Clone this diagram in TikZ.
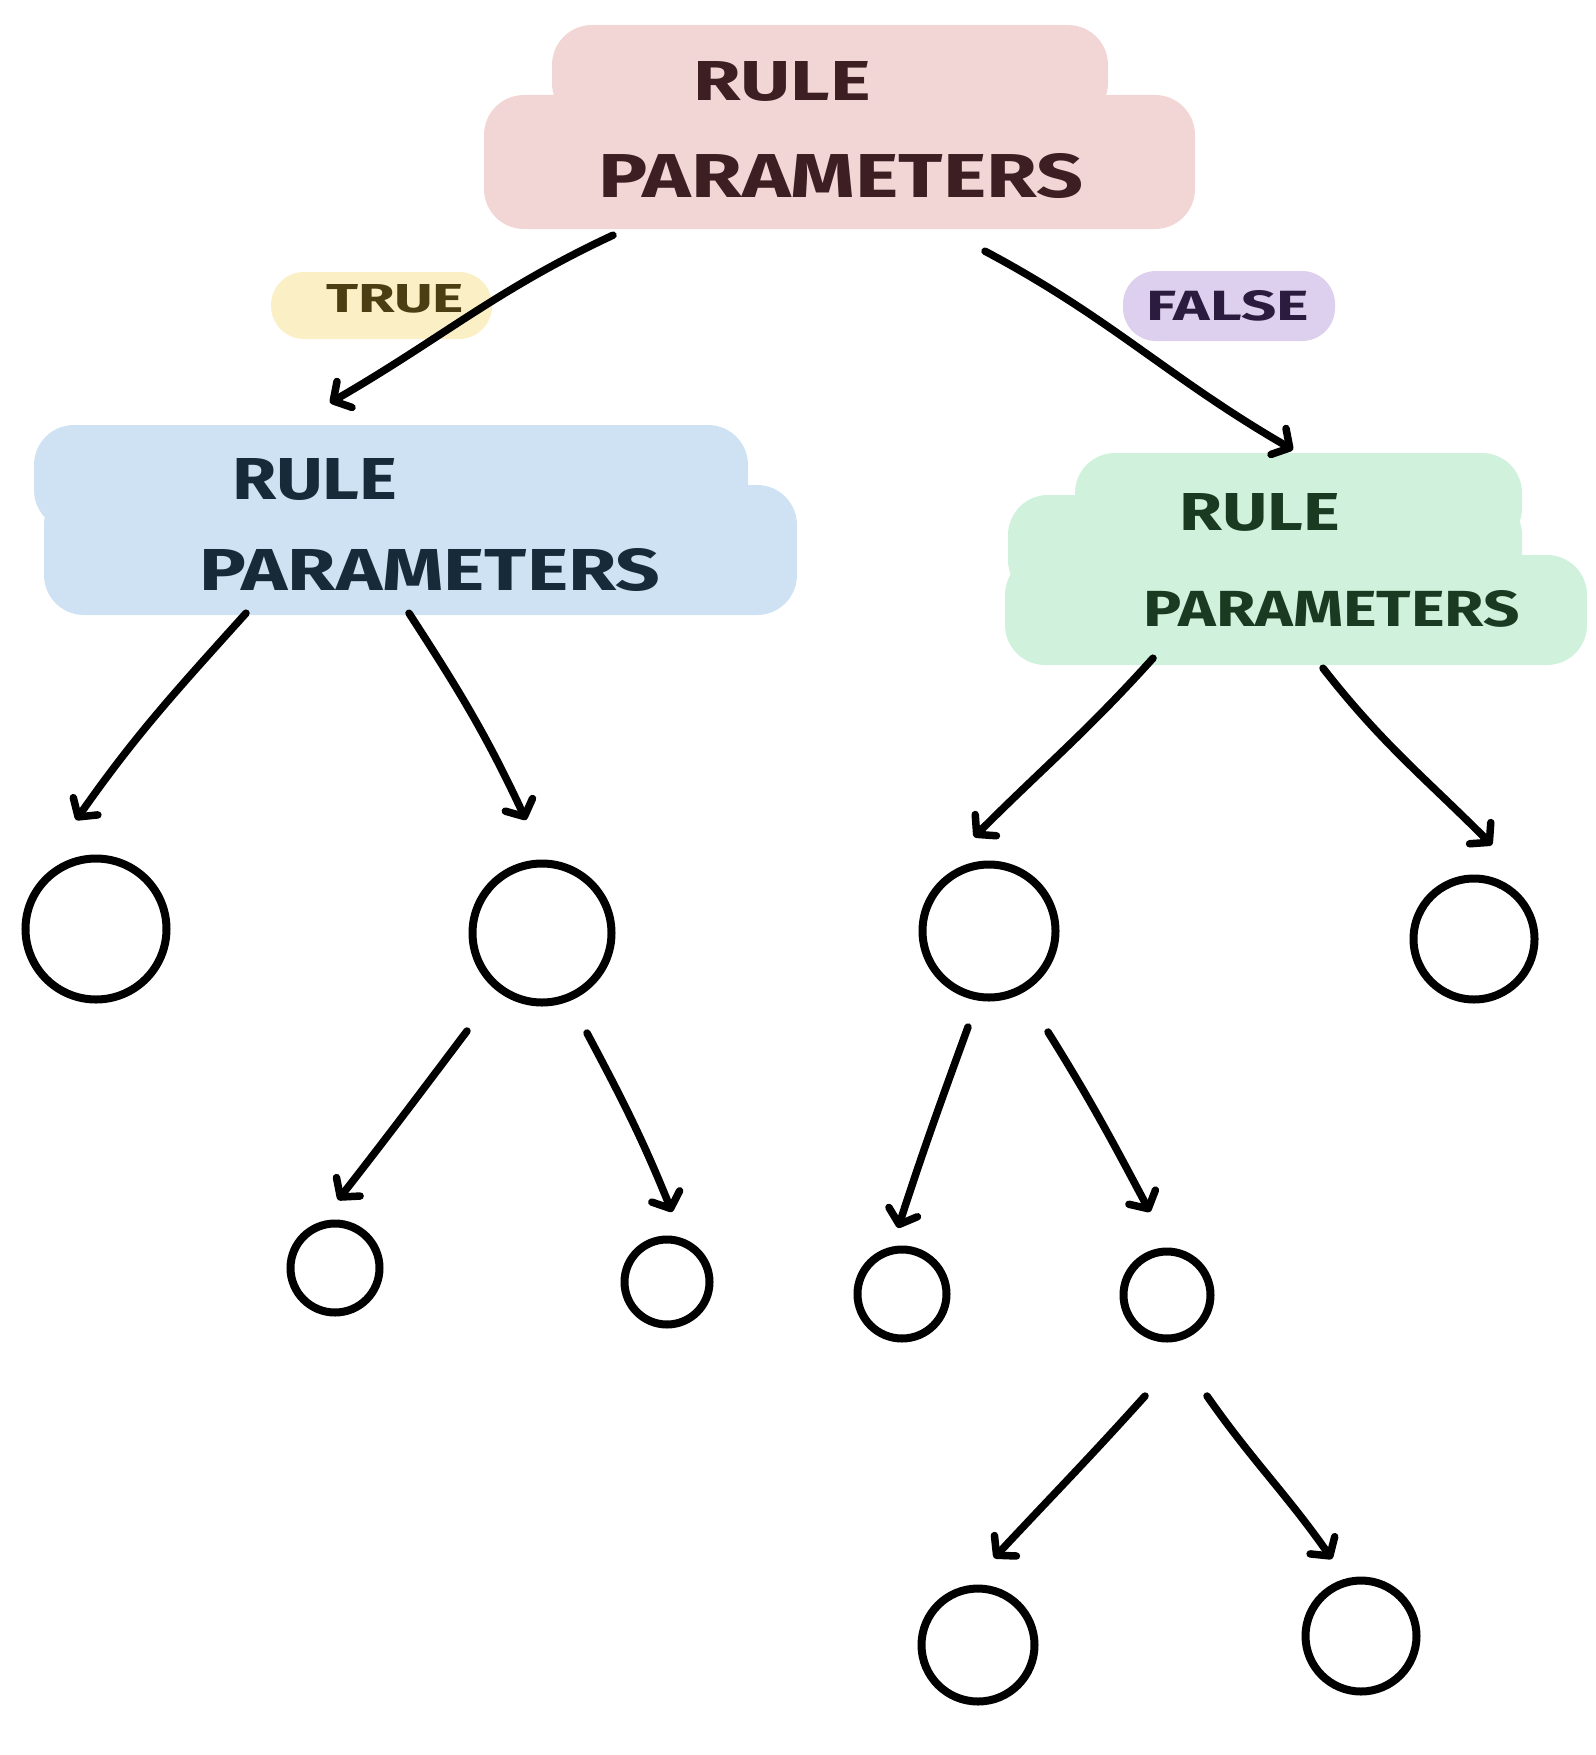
\documentclass[tikz,border=0pt]{standalone}
\usepackage{fontspec}
\setmainfont{Fira Sans}
\usetikzlibrary{arrows.meta,calc}
\definecolor{pinkbg}{HTML}{F2D6D6}
\definecolor{pinktx}{HTML}{3D1E22}
\definecolor{bluebg}{HTML}{CFE2F3}
\definecolor{bluetx}{HTML}{172A3A}
\definecolor{greenbg}{HTML}{D0F2DC}
\definecolor{greentx}{HTML}{1B3A22}
\definecolor{yellowbg}{HTML}{FAEFC5}
\definecolor{yellowtx}{HTML}{4A3E12}
\definecolor{purplebg}{HTML}{DDD0EE}
\definecolor{purpletx}{HTML}{2B1B3E}
\newcommand\hw[3]{\resizebox{#1pt}{#2pt}{\bfseries #3}}
\begin{document}
\begin{tikzpicture}[x=1pt,y=-1pt,
  blob/.style={rectangle, rounded corners=40pt, inner sep=0pt, draw=none},
  lbl/.style={rectangle, rounded corners=33pt, inner sep=0pt, draw=none},
  txt/.style={inner sep=0pt},
  circ/.style={circle, draw=black, line width=8pt, inner sep=0pt},
  arr/.style={line width=7.5pt, line cap=round, draw=black,
    -{Straight Barb[length=13pt,width=30pt,line cap=round,round]}}]
\useasboundingbox (0,0) rectangle (1595,1755);
% top blob
\node[blob, fill=pinkbg, minimum width=556pt, minimum height=98pt] (top1) at (830,74) {};
\node[blob, fill=pinkbg, minimum width=711pt, minimum height=134pt] (top2) at (839.5,162) {};
\node[txt, text=pinktx] (topA) at (782,81) {\hw{177}{39}{RULE}};
\node[txt, text=pinktx] (topB) at (841,176) {\hw{485}{44}{PARAMETERS}};
% blue blob
\node[blob, fill=bluebg, minimum width=714pt, minimum height=105pt] (blue1) at (391,477.5) {};
\node[blob, fill=bluebg, minimum width=753pt, minimum height=130pt] (blue2) at (420.5,550) {};
\node[txt, text=bluetx] (blueA) at (315,479) {\hw{165}{41}{RULE}};
\node[txt, text=bluetx] (blueB) at (430,570) {\hw{461}{42}{PARAMETERS}};
% green blob
\node[blob, fill=greenbg, minimum width=447pt, minimum height=95pt] (green1) at (1298.5,500.5) {};
\node[blob, fill=greenbg, minimum width=514pt, minimum height=105pt] (green2) at (1265,547.5) {};
\node[blob, fill=greenbg, minimum width=582pt, minimum height=110pt] (green3) at (1296,610) {};
\node[txt, text=greentx] (greenA) at (1260,512) {\hw{160}{37}{RULE}};
\node[txt, text=greentx] (greenB) at (1332,609) {\hw{376}{36}{PARAMETERS}};
% labels
\node[lbl, fill=yellowbg, minimum width=221pt, minimum height=67pt] (yel) at (381.5,305.5) {};
\node[txt, text=yellowtx] (trueT) at (395,299) {\hw{138}{28}{TRUE}};
\node[lbl, fill=purplebg, minimum width=212pt, minimum height=70pt] (pur) at (1229,306) {};
\node[txt, text=purpletx] (falseT) at (1228,306) {\hw{162}{30}{FALSE}};
% circles
\node[circ, minimum size=141pt] (c1) at (96,929) {};
\node[circ, minimum size=139pt] (c2) at (542,933) {};
\node[circ, minimum size=133pt] (c3) at (989,931) {};
\node[circ, minimum size=121pt] (c4) at (1474,939) {};
\node[circ, minimum size=89pt] (c5) at (335,1268) {};
\node[circ, minimum size=85pt] (c6) at (667,1282) {};
\node[circ, minimum size=89pt] (c7) at (902,1294) {};
\node[circ, minimum size=87pt] (c8) at (1167,1295) {};
\node[circ, minimum size=113pt] (c9) at (978,1645) {};
\node[circ, minimum size=111pt] (c10) at (1361,1636) {};
% arrows
\draw[arr] ($(top2.south)+(-226.5,6)$) to[out=205,in=30] ($(blue1.north)+(-61,-22)$);
\draw[arr] ($(top2.south)+(145.5,22)$) to[out=-28,in=150] ($(green1.north)+(-5.5,-3)$);
\draw[arr] ($(blue2.south)+(-174.5,-2)$) to[out=228,in=55] ($(c1)+(-20,-109)$);
\draw[arr] ($(blue2.south)+(-11.5,-2)$) to[out=-57,in=115] ($(c2)+(-16,-113)$);
\draw[arr] ($(green3.south)+(-143,-7)$) to[out=228,in=45] ($(c3)+(-15,-94)$);
\draw[arr] ($(green3.south)+(27,3)$) to[out=-52,in=135] ($(c4)+(18,-94)$);
\draw[arr] ($(c2)+(-75,98)$) to[out=233,in=52] ($(c5)+(3,-68)$);
\draw[arr] ($(c2)+(45,100)$) to[out=-62,in=112] ($(c6)+(5,-70)$);
\draw[arr] ($(c3)+(-21,96)$) to[out=250,in=72] ($(c7)+(-4,-66)$);
\draw[arr] ($(c3)+(59,101)$) to[out=-58,in=118] ($(c8)+(-17,-83)$);
\draw[arr] ($(c8)+(-22,101)$) to[out=228,in=47] ($(c9)+(16,-87)$);
\draw[arr] ($(c8)+(40,101)$) to[out=-55,in=125] ($(c10)+(-29,-77)$);
\end{tikzpicture}
\end{document}
